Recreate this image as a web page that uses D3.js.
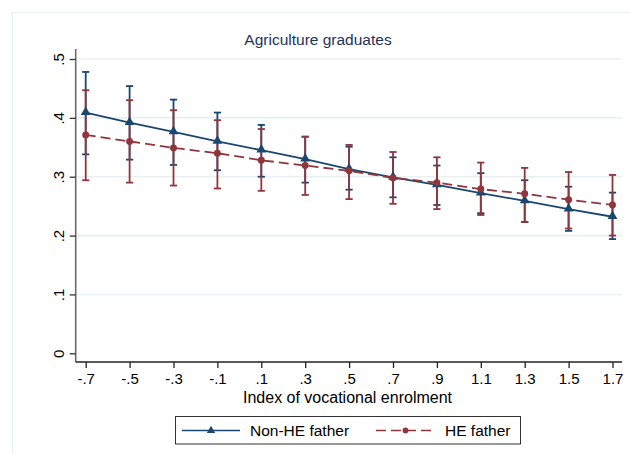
<!DOCTYPE html>
<html>
<head>
<meta charset="utf-8">
<script src="https://cdn.jsdelivr.net/npm/d3@7"></script>
<style>
  html, body { margin: 0; padding: 0; background: #fff; }
  svg { display: block; font-family: "Liberation Sans", Arial, sans-serif; }
</style>
</head>
<body>
<svg id="chart" width="629" height="454"></svg>
<script>
// Predicted share of agriculture graduates by index of vocational enrolment
const xValues = [-0.7, -0.5, -0.3, -0.1, 0.1, 0.3, 0.5, 0.7, 0.9, 1.1, 1.3, 1.5, 1.7];
const xTickLabels = ["-.7", "-.5", "-.3", "-.1", ".1", ".3", ".5", ".7", ".9", "1.1", "1.3", "1.5", "1.7"];
const yTicks = [0, 0.1, 0.2, 0.3, 0.4, 0.5];
const yTickLabels = ["0", ".1", ".2", ".3", ".4", ".5"];

// Non-HE father: point estimate and 95% CI
const nonHeEst = [0.409, 0.392, 0.376, 0.360, 0.345, 0.330, 0.313, 0.299, 0.286, 0.272, 0.259, 0.245, 0.232];
const nonHeLo  = [0.338, 0.329, 0.320, 0.311, 0.300, 0.290, 0.278, 0.265, 0.252, 0.238, 0.223, 0.208, 0.194];
const nonHeHi  = [0.478, 0.454, 0.431, 0.409, 0.388, 0.368, 0.351, 0.333, 0.319, 0.306, 0.294, 0.283, 0.273];

// HE father: point estimate and 95% CI
const heEst = [0.371, 0.360, 0.349, 0.340, 0.328, 0.319, 0.310, 0.298, 0.290, 0.279, 0.271, 0.261, 0.252];
const heLo  = [0.294, 0.290, 0.285, 0.280, 0.276, 0.269, 0.262, 0.254, 0.245, 0.235, 0.223, 0.212, 0.200];
const heHi  = [0.447, 0.430, 0.413, 0.396, 0.381, 0.368, 0.354, 0.342, 0.333, 0.324, 0.315, 0.308, 0.303];

const seriesNames = ["Non-HE father", "HE father"];
const titleText = "Agriculture graduates";
const xTitleText = "Index of vocational enrolment";

const navy = "#1a476f";
const maroon = "#90353b";

const svg = d3.select("#chart");

// faint outer graph-region frame
svg.append("rect")
  .attr("x", 12.5).attr("y", 12.5)
  .attr("width", 640).attr("height", 460)
  .attr("fill", "none").attr("stroke", "#e9eef0").attr("stroke-width", 1);

const x = d3.scaleLinear().domain([-0.7, 1.7]).range([85.7, 612.5]);
const y = d3.scaleLinear().domain([0, 0.5]).range([353.3, 59]);
const plotLeft = 75.7, plotRight = 622, plotTop = 49, plotBottom = 362;

// horizontal grid lines
svg.append("g")
  .selectAll("line")
  .data(yTicks.filter(d => d > 0))
  .join("line")
  .attr("x1", plotLeft).attr("x2", plotRight)
  .attr("y1", d => y(d)).attr("y2", d => y(d))
  .attr("stroke", "#eaf0f2").attr("stroke-width", 1.6);

// y axis
const yAxis = svg.append("g")
  .attr("transform", `translate(${plotLeft},0)`)
  .call(d3.axisLeft(y).tickValues(yTicks).tickFormat((d, i) => yTickLabels[i]).tickSize(6).tickPadding(0));
yAxis.select(".domain").attr("d", `M0,${plotTop}V${plotBottom}`).attr("stroke", "#6b6b6b").attr("stroke-width", 1.6);
yAxis.selectAll(".tick line").attr("stroke", "#333").attr("stroke-width", 1.3);
yAxis.selectAll(".tick text")
  .attr("x", null).attr("dy", null)
  .attr("text-anchor", "middle")
  .attr("transform", "translate(-12,0) rotate(-90)")
  .attr("font-size", 15)
  .attr("font-family", "Liberation Sans, Arial, sans-serif")
  .attr("fill", "#000");

// x axis
const xAxis = svg.append("g")
  .attr("transform", `translate(0,${plotBottom})`)
  .call(d3.axisBottom(x).tickValues(xValues).tickFormat((d, i) => xTickLabels[i]).tickSize(6).tickPadding(5));
xAxis.select(".domain").attr("d", `M${plotLeft},0H${plotRight}`).attr("stroke", "#222").attr("stroke-width", 1.6);
xAxis.selectAll(".tick line").attr("stroke", "#222").attr("stroke-width", 1.3);
xAxis.selectAll(".tick text")
  .attr("font-size", 15)
  .attr("font-family", "Liberation Sans, Arial, sans-serif")
  .attr("fill", "#000");

// titles
svg.append("text")
  .attr("x", 318).attr("y", 45)
  .attr("text-anchor", "middle")
  .attr("font-size", 15.5)
  .attr("fill", "#1e3358")
  .text(titleText);

svg.append("text")
  .attr("x", 347.5).attr("y", 403)
  .attr("text-anchor", "middle")
  .attr("font-size", 16)
  .attr("fill", "#000")
  .text(xTitleText);

// confidence-interval bars with caps
function drawCI(lo, hi, color) {
  const g = svg.append("g").attr("stroke", color).attr("stroke-width", 1.8).attr("fill", "none");
  const capW = 3.6;
  xValues.forEach((xv, i) => {
    const cx = x(xv);
    g.append("line").attr("x1", cx).attr("x2", cx).attr("y1", y(lo[i])).attr("y2", y(hi[i]));
    g.append("line").attr("x1", cx - capW).attr("x2", cx + capW).attr("y1", y(lo[i])).attr("y2", y(lo[i]));
    g.append("line").attr("x1", cx - capW).attr("x2", cx + capW).attr("y1", y(hi[i])).attr("y2", y(hi[i]));
  });
}
drawCI(nonHeLo, nonHeHi, navy);
drawCI(heLo, heHi, maroon);

const line = d3.line().x(d => x(d[0])).y(d => y(d[1]));
const tri = d3.symbol().type(d3.symbolTriangle).size(42);
const circ = d3.symbol().type(d3.symbolCircle).size(38);

// Non-HE father line and markers
svg.append("path")
  .datum(xValues.map((xv, i) => [xv, nonHeEst[i]]))
  .attr("d", line).attr("fill", "none").attr("stroke", navy).attr("stroke-width", 1.8);
svg.append("g").selectAll("path")
  .data(xValues.map((xv, i) => [xv, nonHeEst[i]]))
  .join("path")
  .attr("transform", d => `translate(${x(d[0])},${y(d[1]) - 0.5})`)
  .attr("d", tri).attr("fill", navy);

// HE father line and markers
svg.append("path")
  .datum(xValues.map((xv, i) => [xv, heEst[i]]))
  .attr("d", line).attr("fill", "none").attr("stroke", maroon).attr("stroke-width", 1.8)
  .attr("stroke-dasharray", "10,5");
svg.append("g").selectAll("path")
  .data(xValues.map((xv, i) => [xv, heEst[i]]))
  .join("path")
  .attr("transform", d => `translate(${x(d[0])},${y(d[1])})`)
  .attr("d", circ).attr("fill", maroon);

// legend
const legend = svg.append("g");
legend.append("rect")
  .attr("x", 175.5).attr("y", 416.5).attr("width", 345).attr("height", 27.5)
  .attr("fill", "#fff").attr("stroke", "#333").attr("stroke-width", 1);

const legendItems = [
  { name: seriesNames[0], color: navy, dash: null, shape: d3.symbolTriangle, size: 30, x0: 182, x1: 240, tx: 250 },
  { name: seriesNames[1], color: maroon, dash: "10,5", shape: d3.symbolCircle, size: 26, x0: 376, x1: 435, tx: 445 }
];
legendItems.forEach(it => {
  legend.append("line")
    .attr("x1", it.x0).attr("x2", it.x1).attr("y1", 430.5).attr("y2", 430.5)
    .attr("stroke", it.color).attr("stroke-width", 1.5)
    .attr("stroke-dasharray", it.dash);
  legend.append("path")
    .attr("transform", `translate(${(it.x0 + it.x1) / 2},430.5)`)
    .attr("d", d3.symbol().type(it.shape).size(it.size)())
    .attr("fill", it.color);
  legend.append("text")
    .attr("x", it.tx).attr("y", 436)
    .attr("font-size", 15.5)
    .attr("fill", "#000")
    .text(it.name);
});
</script>
</body>
</html>
